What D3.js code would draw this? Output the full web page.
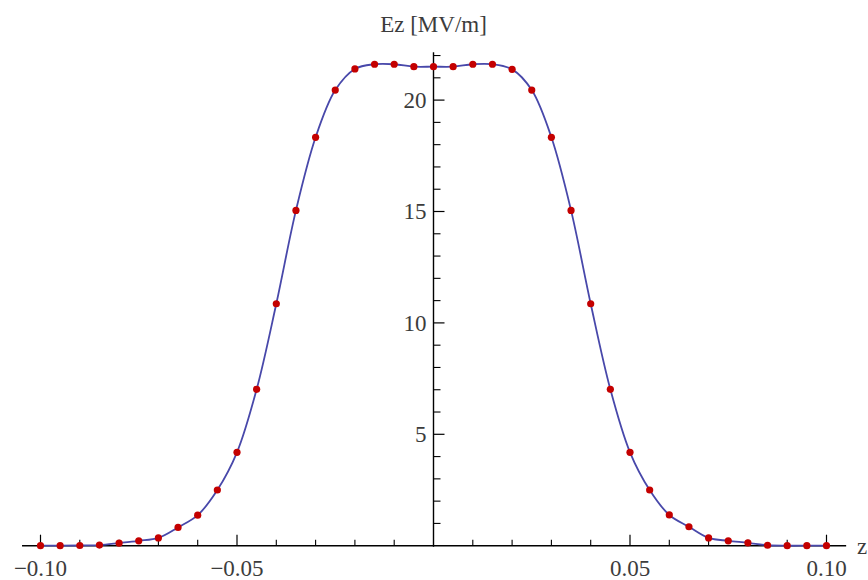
<!DOCTYPE html>
<html>
<head>
<meta charset="utf-8">
<script src="https://cdn.jsdelivr.net/npm/d3@7"></script>
<style>
  html, body { margin: 0; padding: 0; background: #fff; }
  svg { display: block; }
  text { font-family: "Liberation Serif", "Times New Roman", serif; }
</style>
</head>
<body>
<svg id="chart" width="868" height="580"></svg>
<script>
// Longitudinal position z [m] of each sample
const zValues = [
  -0.100, -0.095, -0.090, -0.085, -0.080, -0.075, -0.070, -0.065, -0.060, -0.055,
  -0.050, -0.045, -0.040, -0.035, -0.030, -0.025, -0.020, -0.015, -0.010, -0.005,
   0.000,
   0.005,  0.010,  0.015,  0.020,  0.025,  0.030,  0.035,  0.040,  0.045,  0.050,
   0.055,  0.060,  0.065,  0.070,  0.075,  0.080,  0.085,  0.090,  0.095,  0.100
];
// On-axis field Ez [MV/m] at each sample
const ezValues = [
  0.00, 0.00, 0.01, 0.03, 0.12, 0.22, 0.35, 0.82, 1.37, 2.50,
  4.19, 7.02, 10.86, 15.05, 18.33, 20.45, 21.40, 21.61, 21.61, 21.50,
  21.50,
  21.50, 21.61, 21.61, 21.38, 20.45, 18.33, 15.05, 10.86, 7.02, 4.19,
  2.50, 1.38, 0.85, 0.35, 0.22, 0.13, 0.02, 0.00, 0.00, 0.00
];
// Axis ticks
const zMajorTicks = [-0.10, -0.05, 0.05, 0.10];
const zMajorLabels = ["\u22120.10", "\u22120.05", "0.05", "0.10"];
const zMinorTicks = [-0.09, -0.08, -0.07, -0.06, -0.04, -0.03, -0.02, -0.01,
                      0.01, 0.02, 0.03, 0.04, 0.06, 0.07, 0.08, 0.09];
const ezMajorTicks = [5, 10, 15, 20];
const ezMajorLabels = ["5", "10", "15", "20"];
const ezMinorTicks = [1, 2, 3, 4, 6, 7, 8, 9, 11, 12, 13, 14, 16, 17, 18, 19, 21, 22];

const svg = d3.select("#chart");

const x = d3.scaleLinear().domain([-0.1, 0.1]).range([40.5, 826.5]);
const y = d3.scaleLinear().domain([0, 20]).range([545.7, 100.1]);

const x0 = x(0), y0 = y(0);
const labelColor = "#3c3c3c";
const fontSize = 23;

// Axis lines
svg.append("line")
  .attr("x1", x(-0.1047)).attr("x2", x(0.105))
  .attr("y1", y0).attr("y2", y0)
  .attr("stroke", "#000").attr("stroke-width", 1.4);
svg.append("line")
  .attr("x1", x0).attr("x2", x0)
  .attr("y1", y(-0.05)).attr("y2", y(22.15))
  .attr("stroke", "#000").attr("stroke-width", 1.4);

// z-axis ticks (pointing up)
svg.append("g").selectAll("line").data(zMajorTicks).join("line")
  .attr("x1", d => x(d)).attr("x2", d => x(d))
  .attr("y1", y0).attr("y2", y0 - 11)
  .attr("stroke", "#000").attr("stroke-width", 1.2);
svg.append("g").selectAll("line").data(zMinorTicks).join("line")
  .attr("x1", d => x(d)).attr("x2", d => x(d))
  .attr("y1", y0).attr("y2", y0 - 6)
  .attr("stroke", "#000").attr("stroke-width", 1.1);
svg.append("g").selectAll("text").data(zMajorTicks).join("text")
  .attr("x", d => x(d)).attr("y", y0 + 30)
  .attr("text-anchor", "middle")
  .attr("font-size", fontSize).attr("fill", labelColor)
  .text((d, i) => zMajorLabels[i]);

// Ez-axis ticks (pointing right)
svg.append("g").selectAll("line").data(ezMajorTicks).join("line")
  .attr("x1", x0).attr("x2", x0 + 11)
  .attr("y1", d => y(d)).attr("y2", d => y(d))
  .attr("stroke", "#000").attr("stroke-width", 1.2);
svg.append("g").selectAll("line").data(ezMinorTicks).join("line")
  .attr("x1", x0).attr("x2", x0 + 7)
  .attr("y1", d => y(d)).attr("y2", d => y(d))
  .attr("stroke", "#000").attr("stroke-width", 1.1);
svg.append("g").selectAll("text").data(ezMajorTicks).join("text")
  .attr("x", x0 - 7).attr("y", d => y(d))
  .attr("dy", "0.34em")
  .attr("text-anchor", "end")
  .attr("font-size", fontSize).attr("fill", labelColor)
  .text((d, i) => ezMajorLabels[i]);

// Axis labels
svg.append("text")
  .attr("x", x0).attr("y", 32)
  .attr("text-anchor", "middle")
  .attr("font-size", fontSize).attr("fill", labelColor)
  .text("Ez [MV/m]");
svg.append("text")
  .attr("x", 857).attr("y", y0 + 8)
  .attr("font-size", fontSize).attr("fill", labelColor)
  .text("z");

const data = zValues.map((z, i) => ({ z, ez: ezValues[i] }));

// Smooth field profile
const line = d3.line()
  .x(d => x(d.z)).y(d => y(d.ez))
  .curve(d3.curveCatmullRom.alpha(0.5));
svg.append("path")
  .datum(data)
  .attr("d", line)
  .attr("fill", "none")
  .attr("stroke", "#4848aa")
  .attr("stroke-width", 1.8);

// Sample points
svg.append("g").selectAll("circle").data(data).join("circle")
  .attr("cx", d => x(d.z)).attr("cy", d => y(d.ez))
  .attr("r", 3.6)
  .attr("fill", "#c40000");
</script>
</body>
</html>
